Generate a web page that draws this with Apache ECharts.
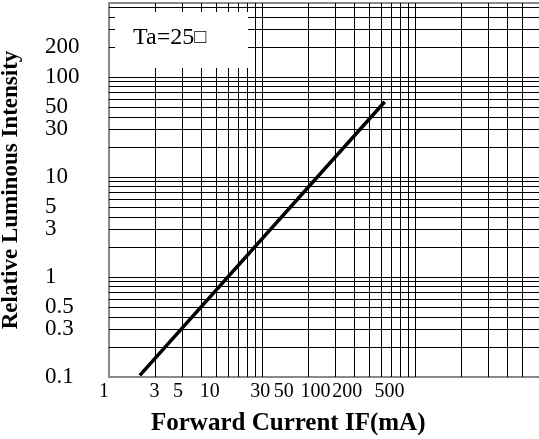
<!DOCTYPE html>
<html>
<head>
<meta charset="utf-8">
<script src="https://cdn.jsdelivr.net/npm/echarts@6/dist/echarts.min.js"></script>
<style>
  html, body { margin: 0; padding: 0; background: #fff; }
  #chart { width: 539px; height: 439px; }
</style>
</head>
<body>
<div id="chart"></div>
<script>
// 曲线数据 (IF mA -> 相对光强)
var currentMA = [1.59, 63.4];
var relIntensity = [0.104, 56.6];

// 刻度标签
var xTickLabels = [1, 3, 5, 10, 30, 50, 100, 200, 500];
var yTickLabels = [0.1, 0.3, 0.5, 1, 3, 5, 10, 30, 50, 100, 200];

// 对数网格线
var xGridLines = [2, 3, 4, 5, 6, 7, 8, 9, 10, 20, 30, 40, 50, 60, 70, 80, 90, 100, 200, 300, 400, 500];
var yGridLines = [0.2, 0.3, 0.4, 0.5, 0.6, 0.7, 0.8, 0.9, 1, 2, 3, 4, 5, 6, 7, 8, 9,
                  10, 20, 30, 40, 50, 60, 70, 80, 90, 100, 200, 300, 400, 500];

var serif = "'Liberation Serif', 'Times New Roman', serif";

var myChart = echarts.init(document.getElementById('chart'));

var gridMarks = [];
xGridLines.forEach(function(v){ gridMarks.push({xAxis: v}); });
yGridLines.forEach(function(v){ gridMarks.push({yAxis: v}); });

var option = {
    animation: false,
    backgroundColor: '#fff',
    title: {
        text: 'Forward Current IF(mA)',
        left: 146,
        top: 406,
        textStyle: {fontFamily: serif, fontWeight: 'bold', fontSize: 25, color: '#000'}
    },
    grid: [
        {
            left: 109, right: -29, top: 3, bottom: 62,
            outerBoundsMode: 'none',
            containLabel: false,
            show: true, borderColor: '#888', borderWidth: 2
        },
        {
            // 标签用 (原图标签与网格不对齐)
            left: 104, right: -29, top: 3, bottom: 62,
            outerBoundsMode: 'none',
            containLabel: false
        }
    ],
    xAxis: [
        {
            type: 'log', min: 1, max: 1000, gridIndex: 0,
            axisLine: {show: false}, axisTick: {show: false},
            axisLabel: {show: false}, splitLine: {show: false}
        },
        {
            type: 'log', min: 1, max: 24380, gridIndex: 1, position: 'bottom',
            axisLine: {show: false}, axisTick: {show: false}, splitLine: {show: false},
            axisLabel: {
                customValues: xTickLabels,
                margin: 5, hideOverlap: false,
                fontFamily: serif, fontSize: 20, color: '#000'
            }
        }
    ],
    yAxis: [
        {
            type: 'log', min: 0.1, max: 550, gridIndex: 0,
            name: 'Relative Luminous Intensity',
            nameLocation: 'middle', nameRotate: 90, nameGap: 86,
            nameTextStyle: {fontFamily: serif, fontWeight: 'bold', fontSize: 23, color: '#000'},
            axisLine: {show: false}, axisTick: {show: false}, splitLine: {show: false},
            axisLabel: {
                customValues: yTickLabels,
                margin: 64, align: 'left',
                fontFamily: serif, fontSize: 23, color: '#000'
            }
        },
        {
            type: 'log', min: 0.1, max: 550, gridIndex: 1, show: false
        }
    ],
    graphic: [
        {
            type: 'rect', z: 10,
            shape: {x: 115, y: 12, width: 133, height: 56},
            style: {fill: '#fff'}
        },
        {
            type: 'text', z: 11, left: 133, top: 26,
            style: {
                text: 'Ta=25{b|□}',
                font: '24px ' + serif, fill: '#000',
                rich: {b: {fontFamily: serif, fontSize: 20, color: '#999'}}
            }
        }
    ],
    series: [
        {
            type: 'line', z: 1, data: [], silent: true,
            markLine: {
                silent: true, symbol: 'none', animation: false,
                label: {show: false},
                lineStyle: {color: '#000', width: 1, type: 'solid'},
                emphasis: {disabled: true},
                data: gridMarks
            }
        },
        {
            type: 'line', z: 5, symbol: 'none',
            lineStyle: {color: '#000', width: 3.5},
            data: currentMA.map(function(x, i){ return [x, relIntensity[i]]; })
        }
    ]
};
myChart.setOption(option);
</script>
</body>
</html>
